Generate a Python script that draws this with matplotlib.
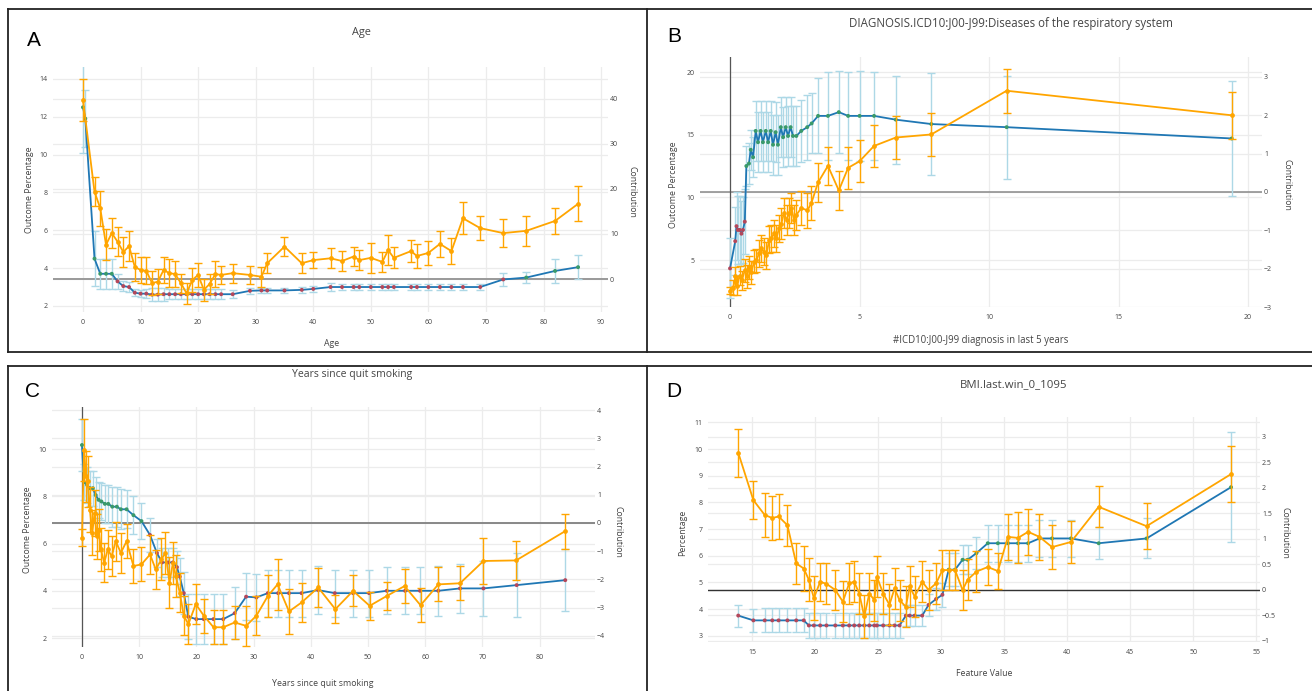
import matplotlib
matplotlib.use("Agg")
import matplotlib.pyplot as plt
from matplotlib.lines import Line2D
from matplotlib.ticker import FuncFormatter

plt.rcParams['font.family'] = ['Open Sans', 'DejaVu Sans']

# ---------------- data ----------------
# Panel A: Age
age_x_outcome = [0, 0.4, 2, 3, 4, 5, 6, 7, 8, 9, 10, 11, 12, 13, 14, 15, 16, 17, 18, 19, 20, 21, 22, 23, 24, 26,
                 29, 31, 32, 35, 38, 40, 43, 45, 47, 48, 50, 52, 53, 54, 57, 58, 60, 62, 64, 66, 69, 73, 77, 82, 86]
age_outcome = [12.5, 11.9, 4.5, 3.7, 3.7, 3.7, 3.3, 3.05, 3.0, 2.7, 2.65, 2.65, 2.6, 2.6,
               2.62, 2.62, 2.62, 2.62, 2.62, 2.62, 2.62, 2.62, 2.62, 2.62, 2.62, 2.62,
               2.8, 2.82, 2.82, 2.82, 2.85, 2.9,
               3.0, 3.0, 3.0, 3.0, 3.0, 3.0, 3.0, 3.0, 3.0, 3.0, 3.0, 3.0, 3.0, 3.0, 3.0,
               3.4, 3.5, 3.85, 4.05]
age_outcome_err = [2.4, 1.5, 1.45, 0.8, 0.8, 0.8, 0.4, 0.25, 0.25, 0.2, 0.2, 0.25, 0.35, 0.35,
                   0.35, 0.25, 0.25, 0.25, 0.25, 0.25, 0.25, 0.25, 0.25, 0.25, 0.25, 0.2,
                   0.15, 0.15, 0.15, 0.15, 0.15, 0.15,
                   0.2, 0.15, 0.15, 0.15, 0.15, 0.15, 0.15, 0.15, 0.15, 0.15, 0.15, 0.15, 0.15, 0.15, 0.15,
                   0.35, 0.3, 0.65, 0.65]
age_x_contrib = [0, 2, 3, 4, 5, 6, 7, 8, 9, 10, 11, 12, 13, 14, 15, 16, 17, 18, 19, 20, 21, 22, 23, 24, 26,
                 29, 31, 32, 35, 38, 40, 43, 45, 47, 48, 50, 52, 53, 54, 57, 58, 60, 62, 64, 66, 69, 73, 77, 82, 86]
age_contrib = [39.8, 19.4, 15.7, 7.6, 10.2, 8.3, 6.0, 7.3, 2.7, 2.0, 1.8, -0.9, -0.6, 2.0, 1.3, 1.1, -0.9,
               -3.2, -0.2, 0.9, -2.4, -1.1, 1.1, 0.9, 1.3, 0.9, 0.5, 3.5, 7.2, 3.5, 4.2, 4.6, 4.0, 5.0,
               4.2, 4.7, 3.8, 6.4, 4.7, 6.2, 5.1, 5.8, 7.8, 6.2, 13.5, 11.3, 10.2, 10.7, 12.9, 16.7]
age_contrib_err = [4.7, 3.2, 3.9, 3.4, 3.4, 3.2, 3.3, 3.4, 3.1, 2.9, 3.0, 2.6, 2.8, 2.8, 3.1, 2.8, 2.1,
                   2.3, 2.7, 2.7, 2.4, 2.3, 2.8, 2.1, 2.1, 2.1, 2.2, 2.2, 2.1, 2.2, 1.8, 2.2, 2.2, 2.2,
                   2.2, 3.3, 2.3, 3.3, 2.3, 2.5, 2.6, 2.7, 2.9, 2.9, 3.6, 2.7, 3.2, 3.4, 2.9, 3.9]

# Panel B: respiratory diagnoses
resp_x_outcome = [0.0, 0.2, 0.25, 0.3, 0.37, 0.44, 0.5, 0.57, 0.63, 0.73, 0.8, 0.89, 0.99, 1.08, 1.18, 1.27,
                  1.38, 1.47, 1.57, 1.66, 1.76, 1.85, 1.96, 2.05, 2.15, 2.24, 2.34, 2.43, 2.56, 2.75, 2.98,
                  3.15, 3.4, 3.78, 4.2, 4.56, 5.0, 5.56, 6.4, 7.77, 10.68, 19.37]
resp_outcome = [4.33, 6.5, 7.7, 7.4, 7.4, 7.1, 7.4, 8.06, 12.5, 12.7, 13.8, 13.2, 15.3, 14.4, 15.3, 14.4,
                15.3, 14.4, 15.3, 14.2, 15.2, 14.2, 15.6, 14.8, 15.6, 14.9, 15.6, 14.9, 14.9, 15.3, 15.6,
                15.9, 16.5, 16.5, 16.8, 16.5, 16.5, 16.5, 16.2, 15.85, 15.6, 14.7]
resp_outcome_err = [2.4, 2.7, 2.7, 2.7, 2.7, 2.6, 2.6, 2.6, 1.6, 1.6, 1.6, 1.6, 2.4, 2.4, 2.4, 2.4,
                    2.4, 2.4, 2.4, 2.4, 2.4, 2.4, 2.4, 2.4, 2.4, 2.4, 2.4, 2.4, 2.4, 2.5, 2.6,
                    2.4, 3.0, 3.5, 3.3, 3.5, 3.6, 3.5, 3.5, 4.1, 4.1, 4.6]
resp_x_contrib = [0.0, 0.12, 0.21, 0.28, 0.37, 0.46, 0.57, 0.66, 0.73, 0.82, 0.93, 1.02, 1.12, 1.21, 1.31,
                  1.4, 1.51, 1.6, 1.7, 1.79, 1.89, 1.98, 2.08, 2.18, 2.28, 2.37, 2.47, 2.56, 2.75, 2.99,
                  3.14, 3.4, 3.78, 4.2, 4.56, 5.0, 5.56, 6.4, 7.77, 10.68, 19.37]
resp_contrib = [-2.57, -2.5, -2.2, -2.44, -2.18, -2.3, -2.04, -2.2, -1.96, -2.09, -1.82, -1.78, -1.6, -1.47,
                -1.56, -1.65, -1.25, -1.21, -1.08, -1.21, -0.95, -0.83, -0.55, -0.73, -0.55, -0.42, -0.73,
                -0.6, -0.42, -0.48, -0.29, 0.25, 0.68, 0.04, 0.63, 0.8, 1.2, 1.42, 1.5, 2.64, 2.0]
resp_contrib_err = [0.08, 0.2, 0.25, 0.25, 0.25, 0.25, 0.3, 0.3, 0.3, 0.3, 0.3, 0.3, 0.35, 0.35, 0.35,
                    0.35, 0.35, 0.35, 0.35, 0.35, 0.35, 0.4, 0.4, 0.4, 0.4, 0.4, 0.4, 0.4, 0.45, 0.45,
                    0.45, 0.5, 0.5, 0.5, 0.55, 0.55, 0.55, 0.55, 0.55, 0.57, 0.62]

# Panel C: years since quit smoking
quit_x_outcome = [0, 0.35, 0.9, 1.4, 1.9, 2.4, 2.9, 3.4, 4.0, 4.6, 5.3, 6.1, 6.8, 7.8, 9.0, 10.4, 11.9, 13.1,
                  14.0, 15.1, 15.9, 16.6, 17.1, 17.8, 18.6, 20.0, 21.3, 23.0, 24.7, 26.7, 28.7, 30.5, 32.5,
                  34.3, 36.2, 38.4, 41.3, 44.2, 47.4, 50.2, 53.3, 56.5, 59.1, 62.3, 66.1, 70.2, 76.0, 84.5]
quit_outcome = [10.17, 8.6, 8.48, 8.34, 8.34, 8.05, 7.85, 7.78, 7.68, 7.68, 7.56, 7.56, 7.45, 7.45, 7.2,
                6.95, 6.36, 5.6, 5.2, 5.2, 5.2, 5.0, 4.6, 3.9, 2.9, 2.8, 2.8, 2.8, 2.8, 3.05, 3.75, 3.72,
                3.9, 3.9, 3.9, 3.9, 4.03, 3.9, 3.9, 3.9, 4.0, 4.0, 4.0, 4.0, 4.1, 4.1, 4.24, 4.45]
quit_outcome_err = [1.1, 0.75, 0.75, 0.75, 0.75, 0.75, 0.75, 0.8, 0.8, 0.8, 0.85, 0.85, 0.85, 0.8, 0.8,
                    0.75, 0.7, 0.6, 0.6, 0.6, 0.6, 0.7, 0.8, 0.9, 0.95, 1.05, 1.05, 1.05, 1.05, 1.1, 1.0,
                    1.0, 1.0, 1.0, 1.0, 1.0, 1.0, 1.0, 1.0, 1.0, 1.0, 1.0, 1.0, 1.05, 1.05, 1.15, 1.35, 1.3]
quit_x_contrib = [0, 0.35, 0.7, 1.0, 1.4, 1.8, 2.2, 2.6, 2.9, 3.3, 3.9, 4.5, 5.2, 5.9, 6.8, 7.8, 9.0, 10.4,
                  11.9, 12.9, 13.9, 14.6, 15.3, 15.9, 16.4, 17.1, 17.8, 18.6, 19.9, 21.3, 23.0, 24.7, 26.7,
                  28.7, 30.5, 32.5, 34.2, 36.2, 38.4, 41.3, 44.3, 47.4, 50.3, 53.3, 56.4, 59.2, 62.3, 66.1,
                  70.2, 75.9, 84.5]
quit_contrib = [-0.53, 2.6, 1.65, 1.47, 0.47, -0.35, 0.35, -0.47, -0.24, -0.94, -1.41, -0.94, -1.18, -0.65,
                -1.06, -0.65, -1.53, -1.47, -1.12, -1.65, -1.29, -1.06, -2.12, -1.41, -1.88, -2.47, -3.29,
                -3.59, -2.88, -3.29, -3.7, -3.7, -3.53, -3.65, -3.29, -2.59, -2.18, -3.14, -2.82, -2.29,
                -3.06, -2.41, -2.94, -2.59, -2.24, -2.92, -2.18, -2.14, -1.35, -1.33, -0.29]
quit_contrib_err = [0.3, 1.1, 0.9, 0.9, 0.8, 0.8, 0.8, 0.8, 0.75, 0.75, 0.7, 0.7, 0.7, 0.7, 0.7, 0.6, 0.6,
                    0.6, 0.7, 0.7, 0.75, 0.75, 0.9, 0.75, 0.75, 0.7, 0.7, 0.7, 0.7, 0.6, 0.6, 0.6, 0.6,
                    0.7, 0.7, 0.75, 0.9, 0.8, 0.7, 0.7, 0.5, 0.55, 0.5, 0.5, 0.6, 0.6, 0.6, 0.6, 0.8,
                    0.7, 0.62]

# Panel D: BMI
bmi_x = [13.9, 15.1, 16.0, 16.6, 17.1, 17.8, 18.5, 19.1, 19.5, 19.9, 20.4, 20.9, 21.6, 22.2, 22.7, 23.1,
         23.5, 23.9, 24.3, 24.7, 24.9, 25.4, 25.9, 26.3, 26.7, 27.2, 27.5, 27.9, 28.5, 29.0, 29.6, 30.1,
         30.6, 31.1, 31.7, 32.1, 32.8, 33.7, 34.5, 35.3, 36.1, 36.9, 37.8, 38.8, 40.3, 42.5, 46.3, 53.0]
bmi_outcome = [3.76, 3.58, 3.58, 3.58, 3.58, 3.58, 3.58, 3.58,
               3.39, 3.39, 3.39, 3.39, 3.39, 3.39, 3.39, 3.39, 3.39, 3.39, 3.39, 3.39, 3.39, 3.39, 3.39,
               3.39, 3.39, 3.76, 3.76, 3.76, 3.76, 4.16, 4.38, 4.54, 5.48, 5.48, 5.85, 5.85, 6.1,
               6.47, 6.47, 6.47, 6.47, 6.47, 6.65, 6.65, 6.65, 6.47, 6.65, 8.57]
bmi_outcome_err = [0.41, 0.42, 0.45, 0.45, 0.45, 0.45, 0.45, 0.45,
                   0.48, 0.48, 0.48, 0.48, 0.48, 0.48, 0.48, 0.48, 0.48, 0.48, 0.48, 0.48, 0.48, 0.48,
                   0.48, 0.48, 0.48, 0.4, 0.4, 0.4, 0.4, 0.4, 0.4, 0.45, 0.62, 0.62, 0.55, 0.55, 0.6,
                   0.7, 0.7, 0.7, 0.7, 0.7, 0.7, 0.7, 0.7, 0.6, 0.75, 2.05]
bmi_contrib = [2.69, 1.76, 1.47, 1.41, 1.44, 1.27, 0.52, 0.42,
               0.2, -0.16, 0.16, 0.12, 0.0, -0.23, 0.13, 0.16, -0.07, -0.52, -0.07, -0.2, 0.26, -0.07,
               -0.29, 0.03, -0.2, -0.33, 0.07, -0.13, 0.16, 0.0, 0.13, 0.39, 0.39, 0.39, 0.0, 0.2, 0.36,
               0.45, 0.37, 1.04, 1.02, 1.14, 1.04, 0.84, 0.94, 1.63, 1.25, 2.27]
bmi_contrib_err = [0.47, 0.37, 0.43, 0.43, 0.45, 0.4, 0.4, 0.45,
                   0.42, 0.43, 0.37, 0.4, 0.4, 0.4, 0.4, 0.4, 0.4, 0.42, 0.4, 0.4, 0.4, 0.4,
                   0.4, 0.4, 0.4, 0.4, 0.4, 0.4, 0.4, 0.4, 0.4, 0.4, 0.4, 0.4, 0.4, 0.4, 0.4,
                   0.35, 0.35, 0.45, 0.5, 0.45, 0.45, 0.43, 0.42, 0.4, 0.45, 0.55]

# ---------------- style ----------------
W, H = 1312, 691
TXT = '#444444'
BLUE = '#1f77b4'
LBLUE = '#add8e6'
ORANGE = '#ffa500'
RED = '#b4475a'
GREEN = '#3a9a6a'
GRID = '#ececec'

fig = plt.figure(figsize=(W / 100, H / 100), dpi=100)
fmt = FuncFormatter(lambda v, p: ('%g' % v).replace('-', '\u2212'))


def draw_panel(box, xlim, ylim_l, ylim_r, xticks, yticks_l, yticks_r,
               xb, yb, eb, xo, yo, eo, base_color, base_lw, vline0):
    l, t, r, b = box
    ax = fig.add_axes([l / W, 1 - b / H, (r - l) / W, (b - t) / H])
    ax.set_xlim(*xlim)
    ax.set_ylim(*ylim_l)
    ax2 = ax.twinx()
    ax2.set_ylim(*ylim_r)

    def r2l(v):
        return ylim_l[0] + (v - ylim_r[0]) * (ylim_l[1] - ylim_l[0]) / (ylim_r[1] - ylim_r[0])

    ax.set_xticks(xticks)
    ax.set_yticks(yticks_l)
    ax2.set_yticks(yticks_r)
    ax.grid(True, color=GRID, lw=0.9)
    ax.set_axisbelow(True)
    for v in yticks_r:
        ax.axhline(r2l(v), color=GRID, lw=0.9, zorder=0.5)
    base = r2l(0)
    ax.axhline(base, color=base_color, lw=base_lw, zorder=1)
    if vline0:
        ax.axvline(0, color='#555555', lw=0.9, zorder=1)
    ax.errorbar(xb, yb, yerr=eb, fmt='none', ecolor=LBLUE, elinewidth=1.0,
                capsize=2.6, capthick=1.0, zorder=2)
    ax.plot(xb, yb, color=BLUE, lw=1.3, zorder=3)
    ax.scatter(xb, yb, c=[RED if v < base else GREEN for v in yb], s=8, lw=0, zorder=4)
    ax2.errorbar(xo, yo, yerr=eo, fmt='-o', color=ORANGE, ecolor=ORANGE, ms=2.4, lw=1.3,
                 elinewidth=1.0, capsize=2.6, capthick=1.0, zorder=3)
    for a in (ax, ax2):
        for s in a.spines.values():
            s.set_visible(False)
        a.tick_params(length=0, labelsize=5, labelcolor=TXT)
    ax.tick_params(axis='y', pad=4)
    ax.tick_params(axis='x', pad=5)
    ax2.tick_params(axis='y', pad=1.5)
    ax.xaxis.set_major_formatter(fmt)
    ax.yaxis.set_major_formatter(fmt)
    ax2.yaxis.set_major_formatter(fmt)
    return ax, ax2


def ftext(x, y, s, **kw):
    fig.text(x / W, 1 - y / H, s, ha='center', va='center', **kw)


# Panel A
draw_panel((53, 67, 608, 312), (-5.21, 91.2), (1.68, 14.63), (-7.33, 47.1),
           list(range(0, 91, 10)), list(range(2, 15, 2)), [0, 10, 20, 30, 40],
           age_x_outcome, age_outcome, age_outcome_err,
           age_x_contrib, age_contrib, age_contrib_err, '#999999', 1.4, False)
# Panel B
draw_panel((700, 57, 1262, 307), (-1.16, 20.54), (1.25, 21.2), (-3.0, 3.52),
           [0, 5, 10, 15, 20], [5, 10, 15, 20], [-3, -2, -1, 0, 1, 2, 3],
           resp_x_outcome, resp_outcome, resp_outcome_err,
           resp_x_contrib, resp_contrib, resp_contrib_err, '#888888', 1.1, True)
# Panel C
draw_panel((52, 407, 595, 647), (-5.24, 89.7), (1.62, 11.78), (-4.4, 4.11),
           list(range(0, 81, 10)), [2, 4, 6, 8, 10], [-4, -3, -2, -1, 0, 1, 2, 3, 4],
           quit_x_outcome, quit_outcome, quit_outcome_err,
           quit_x_contrib, quit_contrib, quit_contrib_err, '#888888', 1.4, True)
# Panel D
draw_panel((708, 417, 1260, 642), (11.5, 55.3), (2.77, 11.2), (-1.02, 3.39),
           [15, 20, 25, 30, 35, 40, 45, 50, 55], list(range(3, 12)),
           [-1, -0.5, 0, 0.5, 1, 1.5, 2, 2.5, 3],
           bmi_x, bmi_outcome, bmi_outcome_err,
           bmi_x, bmi_contrib, bmi_contrib_err, '#333333', 1.0, False)

# Titles and labels
LS = 6.3
ftext(361, 33, 'Age', fontsize=7.8, color=TXT)
ftext(332, 344, 'Age', fontsize=LS, color=TXT)
ftext(29, 190, 'Outcome Percentage', fontsize=LS, color=TXT, rotation=90)
ftext(632, 192, 'Contribution', fontsize=LS, color=TXT, rotation=270)

ftext(1011, 23, 'DIAGNOSIS.ICD10:J00-J99:Diseases of the respiratory system', fontsize=8.3, color=TXT)
ftext(981, 340, '#ICD10:J00-J99 diagnosis in last 5 years', fontsize=6.9, color=TXT)
ftext(674, 185, 'Outcome Percentage', fontsize=LS, color=TXT, rotation=90)
ftext(1287, 185, 'Contribution', fontsize=LS, color=TXT, rotation=270)

ftext(352, 375, 'Years since quit smoking', fontsize=7.5, color=TXT)
ftext(323, 683, 'Years since quit smoking', fontsize=LS, color=TXT)
ftext(28, 530, 'Outcome Percentage', fontsize=LS, color=TXT, rotation=90)
ftext(618, 532, 'Contribution', fontsize=LS, color=TXT, rotation=270)

ftext(1014, 385, 'BMI.last.win_0_1095', fontsize=8.2, color=TXT)
ftext(984, 674, 'Feature Value', fontsize=LS, color=TXT)
ftext(683, 533, 'Percentage', fontsize=LS, color=TXT, rotation=90)
ftext(1285, 533, 'Contribution', fontsize=LS, color=TXT, rotation=270)

# Panel letters
for letter, (x, y) in zip('ABCD', [(34, 40), (674, 37), (33, 392), (674, 392)]):
    ftext(x, y, letter, fontsize=15, color='black', family=['Liberation Sans', 'DejaVu Sans'])


# Panel borders
def seg(x0, y0, x1, y1):
    fig.add_artist(Line2D([x0 / W, x1 / W], [1 - y0 / H, 1 - y1 / H], color='#222222', lw=1.3))


seg(8, 9, 1312, 9)
seg(8, 352, 1312, 352)
seg(8, 9, 8, 352)
seg(647, 9, 647, 352)
seg(8, 366, 1312, 366)
seg(8, 366, 8, 691)
seg(647, 366, 647, 691)

fig.savefig('out.png', dpi=100)
